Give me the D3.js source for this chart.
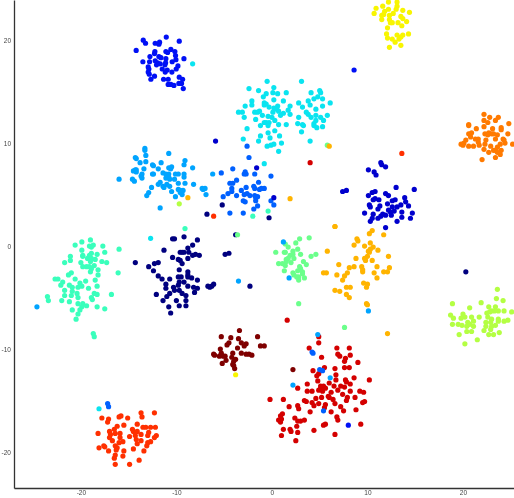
<!DOCTYPE html>
<html>
<head>
<meta charset="utf-8">
<script src="https://cdnjs.cloudflare.com/ajax/libs/d3/7.8.5/d3.min.js"></script>
<style>
html,body{margin:0;padding:0;background:#fff;overflow:hidden}
svg{display:block;filter:blur(0.3px)}
</style>
</head>
<body>
<svg id="chart" width="514" height="498"></svg>
<script>
const classColors = ["#00007f","#0000cd","#0010f5","#0060ff","#00a4ff","#0ae4f0","#3affbc","#6bff8b","#b4ff43","#f8f500","#ffb400","#ff7a00","#ff3000","#d40000","#7f0000"];
const xTicks = [-20,-10,0,10,20];
const yTicks = [-20,-10,0,10,20];

const class0 = [[-10.4,0.7],[-10.2,0.7],[-9.2,0.9],[-7.8,0.6],[-8.3,0.1],[-8.8,-0.2],[-11.3,-0.4],[-8.7,-0.6],[-9.6,-0.6],[-9.4,-0.6],[-9.2,-0.6],[-8.3,-0.9],[-8.0,-0.8],[-7.6,-0.9],[-8.8,-1.2],[-10.4,-1.1],[-9.8,-1.3],[-9.6,-1.4],[-9.4,-1.7],[-4.9,-0.8],[-4.5,-0.7],[-14.3,-1.6],[-12.3,-1.7],[-11.9,-1.6],[-12.9,-2.0],[-9.7,-2.3],[-12.4,-2.4],[-8.8,-2.5],[-8.8,-2.8],[-11.9,-2.9],[-9.8,-3.0],[-9.5,-3.0],[-8.8,-3.0],[-8.4,-3.1],[-11.5,-3.2],[-10.7,-3.2],[-7.8,-3.3],[-9.2,-3.5],[-9.7,-3.5],[-11.1,-3.7],[-9.8,-3.8],[-10.3,-4.0],[-8.8,-3.9],[-11.1,-4.1],[-8.2,-4.0],[-7.8,-4.1],[-6.7,-3.9],[-6.5,-4.0],[-6.3,-3.9],[-6.1,-3.7],[-10.2,-4.3],[-9.7,-4.3],[-10.7,-4.6],[-9.4,-4.6],[-8.1,-4.5],[-12.1,-4.7],[-9.0,-4.8],[-11.0,-4.9],[-11.4,-5.3],[-10.0,-5.3],[-9.0,-5.3],[-9.7,-5.8],[-9.0,-5.8],[-10.8,-5.9],[-10.6,-6.5]];
const class1 = [[11.4,8.1],[11.5,7.9],[11.9,7.7],[10.1,7.4],[10.7,7.2],[10.9,6.9],[13.0,5.7],[14.9,5.5],[7.4,5.3],[7.8,5.4],[10.5,5.2],[10.8,5.3],[11.9,5.1],[12.2,4.9],[10.1,4.9],[13.9,4.7],[10.6,4.5],[10.8,4.6],[11.2,4.5],[12.9,4.5],[12.6,4.4],[14.0,4.3],[10.2,4.0],[10.3,3.8],[12.1,4.1],[13.5,4.0],[13.1,3.8],[14.3,3.9],[11.3,3.9],[11.1,3.6],[12.6,3.8],[12.2,3.5],[12.8,3.4],[12.4,3.3],[13.6,3.3],[9.7,3.2],[14.7,3.2],[10.6,3.1],[11.6,3.1],[11.9,3.0],[12.5,3.0],[11.4,2.9],[11.1,2.7],[10.5,2.7],[13.6,2.8],[14.5,2.7],[10.3,2.4],[13.1,2.4],[11.9,1.8]];
const class2 = [[-11.06,20.3],[-13.47,20.0],[-13.23,19.7],[-12.22,19.7],[-11.76,19.8],[-11.83,19.6],[-9.7,19.9],[-14.21,19.0],[-12.25,18.9],[-11.1,18.9],[-10.58,19.1],[-10.16,18.9],[-10.92,18.8],[-12.29,18.7],[-10.09,18.5],[-12.77,18.4],[-11.83,18.4],[-11.62,18.3],[-11.1,18.2],[-9.21,18.2],[-10.05,18.1],[-13.51,17.9],[-12.81,17.9],[-12.22,18.0],[-11.97,17.8],[-12.08,17.6],[-11.69,17.7],[-11.13,17.8],[-11.2,17.6],[-10.44,17.9],[-9.84,17.5],[-10.02,17.2],[-12.95,17.4],[-12.88,17.2],[-12.95,16.9],[-12.84,16.7],[-11.48,17.2],[-10.96,17.1],[-11.17,16.9],[-10.47,16.9],[-12.29,16.5],[-12.67,16.2],[-11.34,16.2],[-10.86,16.2],[-9.7,16.4],[-9.35,16.2],[-10.86,15.7],[-10.58,15.7],[-10.26,15.6],[-9.74,15.8],[-9.46,15.8],[-9.28,15.3]];
const class3 = [[-2.4,8.6],[-4.1,7.5],[-5.3,7.1],[-2.8,7.2],[-2.7,7.0],[-2.9,7.0],[-1.8,7.0],[-0.1,6.8],[-3.7,6.4],[-4.4,6.1],[-4.1,6.1],[-1.4,6.2],[-1.9,5.8],[-1.8,5.6],[-4.2,5.6],[-4.2,5.3],[-2.7,5.7],[-4.6,5.1],[-3.2,5.4],[-1.3,5.5],[-1.1,5.6],[-0.8,5.6],[-3.7,4.9],[-5.1,4.8],[-2.9,5.0],[-2.6,5.1],[-2.3,4.9],[-1.8,4.9],[-1.5,4.8],[-1.7,4.7],[-3.0,4.4],[-2.8,4.3],[-1.7,4.4],[-0.1,4.4],[0.2,4.0],[-1.5,3.9],[-1.9,3.6],[-4.4,3.2],[-3.0,3.2]];
const class4 = [[-13.3,9.5],[-13.3,9.3],[-13.2,8.8],[-14.3,8.6],[-14.2,8.5],[-10.8,9.0],[-9.1,8.3],[-13.8,8.1],[-13.2,8.2],[-12.5,7.9],[-12.4,7.8],[-11.6,8.1],[-9.2,7.9],[-13.4,7.5],[-14.3,7.4],[-14.5,7.3],[-14.2,7.4],[-14.2,7.2],[-11.9,7.5],[-10.8,7.6],[-10.5,7.7],[-10.6,7.5],[-8.3,7.6],[-11.4,7.1],[-13.6,7.0],[-13.7,6.8],[-13.6,6.6],[-12.5,7.0],[-12.4,7.0],[-11.1,7.0],[-10.8,7.0],[-10.1,7.0],[-9.8,7.0],[-9.2,7.0],[-10.8,6.7],[-11.1,6.6],[-10.7,6.5],[-10.2,6.5],[-14.6,6.5],[-14.4,6.3],[-16.0,6.5],[-9.2,6.7],[-6.2,7.0],[-9.1,6.1],[-11.7,6.2],[-11.9,6.0],[-11.0,6.0],[-9.8,6.1],[-8.2,6.0],[-12.6,5.7],[-11.4,5.8],[-11.3,5.7],[-10.7,5.8],[-9.8,5.5],[-9.6,5.4],[-9.3,5.4],[-12.9,5.2],[-13.1,4.9],[-10.5,5.3],[-9.6,5.2],[-9.4,5.0],[-10.1,4.8],[-7.3,5.6],[-7.0,5.6],[-7.2,5.5],[-6.9,5.0],[-11.7,3.7]];
const class5 = [[-0.5,16.0],[0.2,15.4],[3.1,16.0],[-2.4,15.3],[-1.4,15.1],[-0.6,14.8],[0.1,14.9],[0.6,14.8],[1.5,14.9],[-0.9,14.5],[0.2,14.2],[1.2,14.1],[-2.1,14.1],[-2.1,13.7],[-2.8,13.6],[-0.8,13.9],[-0.6,13.8],[-0.8,13.7],[-0.3,13.5],[0.2,13.4],[0.6,13.6],[1.9,13.6],[2.8,13.9],[3.2,13.5],[0.5,13.3],[0.7,13.1],[1.7,13.2],[-3.5,13.0],[-3.1,13.0],[-1.8,13.0],[-1.5,13.0],[-1.3,13.1],[0.1,13.0],[-1.0,12.7],[1.2,12.9],[0.9,12.7],[1.9,12.8],[-2.9,12.5],[-1.7,12.3],[-0.4,12.6],[0,12.5],[0.3,12.2],[2.8,12.5],[0.7,11.8],[1.5,11.8],[2.7,11.9],[3.2,11.8],[3.3,11.7],[-0.8,12.0],[-0.6,12.0],[-0.3,12.0],[-0.4,11.7],[-1.2,11.7],[-2.6,11.4],[0.3,11.2],[3.1,11.1],[-0.4,11.0],[-1.2,10.7],[0.8,10.7],[-0.2,10.5],[-3.0,10.4],[-1.4,10.2],[1.0,10.0],[-0.5,9.7],[-0.1,9.8],[0.2,9.9],[0.7,9.2],[4.1,14.9],[5.0,15.1],[5.1,14.9],[4.8,14.5],[4.4,14.3],[5.3,14.3],[6.1,13.9],[3.8,14.1],[4.0,13.7],[5.3,13.6],[4.6,13.3],[5.8,12.7],[3.6,13.0],[3.8,12.8],[4.6,12.7],[5.1,12.5],[4.1,12.5],[5.4,12.2],[4.6,12.2],[4.4,11.9],[4.4,11.7],[4.7,11.5],[5.3,11.6],[4.0,10.2]];
const class6 = [[-19.0,0.6],[-19.9,0.4],[-20.6,0.1],[-17.7,0],[-19.1,0],[-18.7,0.1],[-18.9,-0.1],[-19.9,-0.4],[-16.0,-0.3],[-17.5,-0.6],[-18.9,-0.7],[-19.8,-0.9],[-21.1,-1.0],[-18.3,-0.8],[-19.8,-1.0],[-19.1,-0.9],[-19.3,-1.2],[-18.9,-1.2],[-18.5,-1.3],[-21.1,-1.4],[-20.0,-1.6],[-21.7,-1.6],[-17.8,-1.5],[-17.3,-1.6],[-19.0,-1.5],[-18.6,-1.9],[-19.8,-2.0],[-19.4,-2.0],[-19.1,-2.0],[-18.9,-2.2],[-18.2,-2.3],[-19.0,-2.5],[-21.0,-2.6],[-21.3,-2.8],[-16.1,-2.6],[-18.2,-2.8],[-20.6,-3.2],[-22.7,-3.2],[-22.4,-3.2],[-18.5,-3.3],[-19.5,-3.4],[-20.1,-3.6],[-21.9,-3.5],[-22.1,-3.8],[-21.2,-3.8],[-20.9,-4.0],[-20.3,-4.0],[-19.9,-3.9],[-19.2,-4.1],[-18.3,-3.9],[-21.7,-4.3],[-20.4,-4.6],[-20.9,-4.4],[-18.6,-4.6],[-18.3,-4.7],[-16.8,-4.7],[-21.7,-4.8],[-21.0,-4.8],[-18.9,-5.0],[-23.5,-4.9],[-23.4,-5.3],[-20.3,-5.0],[-22.0,-5.3],[-21.2,-5.4],[-18.8,-5.2],[-20.3,-5.6],[-19.8,-5.6],[-19.4,-5.8],[-18.3,-5.9],[-17.5,-6.1],[-20.9,-6.2],[-19.9,-5.9],[-20.1,-6.2],[-20.3,-6.6],[-20.5,-7.1],[-18.7,-8.5],[-18.6,-8.8]];
const class7 = [[3.9,0.8],[2.9,0.7],[2.5,0.3],[1.4,0.2],[1.7,-0.1],[2.7,-0.3],[0.4,-0.6],[1.3,-0.6],[1.4,-0.6],[2.2,-0.5],[2.2,-0.8],[3.0,-0.8],[4.6,-0.8],[4.1,-1.0],[1.9,-0.9],[2.3,-1.2],[1.7,-1.2],[1.5,-1.3],[1.5,-1.5],[0.7,-1.7],[1.1,-1.7],[2.0,-1.6],[3.3,-1.5],[3.6,-1.8],[1.4,-1.9],[2.9,-2.0],[3.0,-2.2],[1.3,-2.4],[2.7,-2.4],[3.2,-2.5],[3.2,-2.7],[2.2,-2.6],[2.3,-2.8],[2.6,-3.0],[2.8,-3.0],[3.4,-3.1],[2.8,-3.3],[2.8,-5.6]];
const class8 = [[23.6,-4.2],[24.2,-5.3],[23.5,-5.1],[21.9,-5.5],[22.7,-5.9],[23.4,-5.9],[20.7,-6.0],[23.0,-6.3],[23.3,-6.3],[23.7,-6.3],[24.3,-6.3],[25.1,-6.4],[22.5,-6.5],[22.8,-6.4],[18.9,-5.6],[18.7,-6.7],[19.0,-7.0],[20.0,-6.6],[20.2,-6.9],[19.8,-7.0],[20.9,-6.9],[21.7,-6.9],[22.6,-6.9],[23.0,-7.1],[23.7,-7.1],[24.7,-7.2],[24.3,-7.3],[23.7,-7.3],[21.1,-7.3],[22.4,-7.4],[22.9,-7.4],[20.5,-7.4],[18.9,-7.6],[19.5,-7.6],[19.9,-7.7],[20.7,-7.6],[20.4,-7.8],[21.1,-7.8],[22.4,-7.8],[23.4,-7.7],[23.0,-7.8],[22.9,-8.1],[20.4,-8.3],[20.9,-8.3],[22.2,-8.2],[23.8,-8.4],[19.6,-8.6],[22.7,-8.6],[23.2,-8.6],[21.5,-9.1],[20.2,-9.5]];
const class9 = [[12.2,23.7],[13.1,23.7],[11.6,23.3],[10.9,23.1],[12.2,23.0],[13.1,23.3],[13.0,23.0],[13.7,22.9],[14.4,22.7],[10.7,22.6],[11.8,22.8],[11.7,22.5],[12.7,22.6],[12.3,22.4],[11.5,22.4],[13.5,22.3],[11.5,22.0],[13.7,22.1],[12.3,22.0],[14.1,21.8],[12.4,21.7],[12.6,21.7],[13.2,21.7],[13.6,21.4],[12.1,21.2],[12.0,20.6],[14.3,20.6],[13.1,20.5],[13.7,20.5],[13.5,20.3],[12.1,20.2],[12.6,20.1],[13.3,20.1],[12.9,19.8],[12.3,19.3],[13.5,19.5]];
const class10 = [[6.6,1.9],[10.5,1.5],[10.2,1.2],[11.7,1.1],[8.9,0.7],[9.0,0.5],[8.6,0.1],[10.3,0.3],[9.7,0],[10.6,-0.1],[5.8,-0.5],[10.3,-0.3],[10.1,-0.5],[11.1,-0.4],[10.2,-0.6],[10.0,-1.0],[12.2,-1.0],[8.8,-1.2],[9.7,-1.2],[9.8,-1.4],[10.5,-1.4],[7.0,-1.8],[8.1,-2.1],[8.6,-2.0],[9.4,-2.0],[9.5,-2.3],[11.0,-2.0],[12.3,-2.1],[12.1,-2.5],[11.7,-2.5],[10.7,-2.6],[9.5,-2.5],[7.9,-2.6],[5.4,-2.6],[5.7,-2.6],[6.8,-2.8],[7.6,-2.9],[7.4,-3.3],[11.0,-3.1],[9.6,-3.6],[10.0,-3.7],[7.8,-4.0],[8.2,-4.0],[9.9,-4.0],[6.6,-4.3],[7.1,-4.4],[7.8,-4.7],[8.1,-5.0],[9.9,-5.6],[10.0,-5.7]];
const class11 = [[22.2,12.8],[22.8,12.5],[23.7,12.5],[23.4,12.2],[22.2,12.2],[22.6,12.0],[24.8,11.9],[20.6,11.8],[20.6,11.7],[22.2,11.6],[21.4,11.4],[23.1,11.4],[24.0,11.5],[24.0,11.3],[20.9,11.0],[20.6,10.9],[24.7,10.9],[22.3,10.9],[22.7,11.0],[23.0,10.9],[23.2,10.9],[23.6,10.8],[22.6,10.8],[21.3,10.4],[21.6,10.4],[20.8,10.6],[20.3,10.3],[24.2,10.4],[23.4,10.4],[24.3,10.3],[22.4,10.3],[21.6,10.1],[20.1,10.0],[19.8,9.9],[20.0,9.8],[24.4,10.0],[23.9,9.9],[25.2,9.9],[20.6,9.7],[21.1,9.7],[21.7,9.8],[22.3,9.9],[22.9,9.7],[23.6,9.6],[22.2,9.4],[23.2,9.3],[23.4,9.3],[24.0,9.3],[23.6,9.1],[22.7,9.1],[23.9,8.9],[23.4,8.6],[22.0,8.4]];
const class12 = [[-12.3,-16.2],[-13.7,-16.2],[-13.6,-16.6],[-15.8,-16.5],[-16.0,-16.6],[-15.1,-16.7],[-17.8,-16.7],[-17.1,-16.8],[-17.2,-17.1],[-14.1,-17.3],[-16.2,-17.5],[-15.5,-17.4],[-13.5,-17.6],[-13.2,-17.6],[-12.7,-17.6],[-12.2,-17.6],[-16.5,-17.8],[-14.6,-17.8],[-17.0,-18.0],[-18.2,-18.2],[-14.5,-18.0],[-14.1,-18.0],[-16.4,-18.2],[-15.9,-18.2],[-13.7,-18.3],[-12.9,-18.1],[-13.0,-18.4],[-16.9,-18.3],[-12.1,-18.4],[-14.9,-18.5],[-14.3,-18.4],[-12.3,-18.6],[-17.0,-18.6],[-15.9,-18.6],[-16.7,-18.9],[-15.6,-19.0],[-14.2,-18.8],[-13.7,-18.9],[-12.7,-19.0],[-13.0,-19.1],[-16.0,-19.1],[-14.1,-19.2],[-16.4,-19.4],[-17.6,-19.4],[-17.5,-19.5],[-13.1,-19.4],[-16.2,-19.6],[-18.1,-19.6],[-14.5,-19.7],[-17.1,-19.9],[-15.5,-19.9],[-16.3,-19.8],[-13.4,-19.9],[-16.4,-20.3],[-15.6,-20.4],[-16.5,-20.6],[-13.9,-20.8],[-16.4,-21.2],[-14.9,-21.2]];
const class13 = [[4.9,-8.8],[4.9,-9.4],[3.9,-9.9],[6.8,-9.9],[8.1,-9.9],[6.9,-10.5],[7.1,-10.7],[8.2,-10.6],[7.7,-10.9],[5.2,-10.8],[7.6,-11.2],[9.0,-11.3],[7.6,-11.8],[8.1,-11.8],[5.5,-11.8],[6.6,-11.9],[4.3,-12.1],[4.9,-12.4],[4.7,-12.6],[6.7,-12.5],[8.6,-12.8],[4.8,-13.1],[6.7,-13.0],[7.7,-13.0],[7.8,-13.2],[10.2,-13.0],[3.7,-13.4],[8.2,-13.4],[2.7,-13.8],[6.0,-13.3],[6.5,-13.6],[5.1,-13.6],[5.4,-13.6],[7.2,-13.6],[7.6,-13.7],[5.1,-13.8],[5.6,-13.8],[3.7,-14.1],[4.2,-14.1],[4.9,-14.0],[5.3,-14.1],[6.2,-14.2],[6.9,-14.0],[8.2,-14.1],[9.2,-14.1],[9.6,-14.2],[7.4,-14.4],[5.9,-14.6],[6.0,-14.7],[8.7,-14.7],[5.2,-14.7],[4.6,-14.8],[6.4,-14.9],[7.9,-14.7],[3.4,-15.0],[3.6,-15.1],[7.8,-15.0],[-0.2,-14.9],[1.2,-14.9],[4.2,-15.2],[4.9,-15.3],[5.6,-15.4],[6.6,-15.3],[9.5,-15.2],[9.7,-15.1],[4.4,-15.5],[1.8,-15.6],[2.7,-15.5],[2.8,-15.8],[5.5,-15.7],[7.2,-15.6],[8.8,-15.9],[6.2,-16.1],[7.5,-16.0],[4.0,-16.1],[1.1,-16.3],[0.9,-16.5],[6.8,-16.6],[2.4,-16.7],[0.7,-16.9],[1.0,-16.8],[6.9,-16.9],[3.4,-16.9],[2.7,-17.0],[3.0,-17.0],[0.9,-17.1],[9.3,-17.3],[5.6,-17.3],[5.4,-17.4],[2.6,-17.5],[1.2,-17.8],[1.9,-17.8],[2.0,-18.0],[4.4,-17.9],[2.7,-18.1],[6.6,-18.3],[1.0,-18.4],[2.5,-18.9]];
const class14 = [[-3.4,-8.2],[-5.3,-8.8],[-4.3,-8.9],[-3.5,-9.0],[-4.5,-9.4],[-3.2,-9.4],[-2.7,-9.5],[-4.7,-9.6],[-2.9,-9.7],[-3.6,-9.9],[-5.4,-10.0],[-5.3,-10.4],[-4.1,-10.4],[-3.2,-10.4],[-2.7,-10.5],[-2.4,-10.5],[-2.1,-10.6],[-6.1,-10.5],[-6.0,-10.6],[-5.5,-10.7],[-5.1,-10.7],[-4.9,-10.7],[-4.2,-10.8],[-4.8,-11.1],[-3.8,-11.0],[-4.0,-11.2],[-5.2,-11.4],[-4.1,-11.5],[-4.0,-11.6],[-3.9,-11.9],[-1.5,-8.8],[-1.2,-9.7],[-0.8,-9.7]];
const classes = [class0,class1,class2,class3,class4,class5,class6,class7,class8,class9,class10,class11,class12,class13,class14];

// points lying away from their own class: x, y, class
const strays = [[-8.3,17.7,5],[-18.1,-15.8,5],[-12.7,0.75,5],[-0.8,8.0,5],[5.8,9.8,7],[6.0,9.7,10],[-2.6,9.7,3],[-1.6,7.6,1],[0.2,4.7,1],[-5.2,4.0,0],[-0.3,2.75,0],[-6.1,2.9,12],[-2.0,2.9,6],[-0.4,3.4,6],[1.9,4.6,10],[-5.9,10.2,1],[-6.8,3.1,0],[-8.8,4.7,10],[-9.7,4.1,8],[-3.8,1.1,0],[-3.6,1.1,7],[8.6,17.1,2],[4.0,8.1,13],[13.6,9.0,12],[6.6,1.9,10],[1.2,0.4,4],[1.8,-3.1,4],[10.1,-6.3,4],[7.6,-7.9,7],[12.1,-8.5,10],[-3.8,-12.5,9],[20.3,-2.5,0],[1.6,-7.2,13],[2.2,-12.0,14],[4.8,-8.6,4],[4.2,-10.3,3],[4.3,-10.4,3],[5.0,-12.0,3],[5.3,-12.1,3],[6.1,-12.8,4],[2.2,-13.5,4],[5.4,-16.0,3],[8.0,-17.4,2],[-17.2,-15.3,3],[-17.1,-15.6,3],[-2.3,-3.9,0],[-3.5,-3.4,4],[-24.6,-5.9,4],[-9.1,1.7,6]];

const svg = d3.select("#chart");
const x = d3.scaleLinear().domain([-27,25.3]).range([14,513.6]);
const y = d3.scaleLinear().domain([-23.5,23.9]).range([488,0]);

const points = classes.flatMap((c,i)=>c.map(p=>[p[0],p[1],i])).concat(strays);
svg.append("g").selectAll("circle").data(points).join("circle")
  .attr("cx",d=>x(d[0])).attr("cy",d=>y(d[1])).attr("r",2.6)
  .attr("fill",d=>classColors[d[2]]);

const gx = svg.append("g").attr("transform","translate(0,488)")
  .call(d3.axisBottom(x).tickValues(xTicks).tickFormat(d=>String(d)).tickSize(0).tickPadding(2));
const gy = svg.append("g").attr("transform","translate(14,0)")
  .call(d3.axisLeft(y).tickValues(yTicks).tickFormat(d=>String(d)).tickSize(0).tickPadding(3));
[gx,gy].forEach(g=>{
  g.select(".domain").attr("stroke","#333").attr("stroke-width",1.3);
  g.selectAll("text").attr("fill","#444").style("font-family","'Liberation Sans',sans-serif").style("font-size","6.5px");
});
</script>
</body>
</html>
